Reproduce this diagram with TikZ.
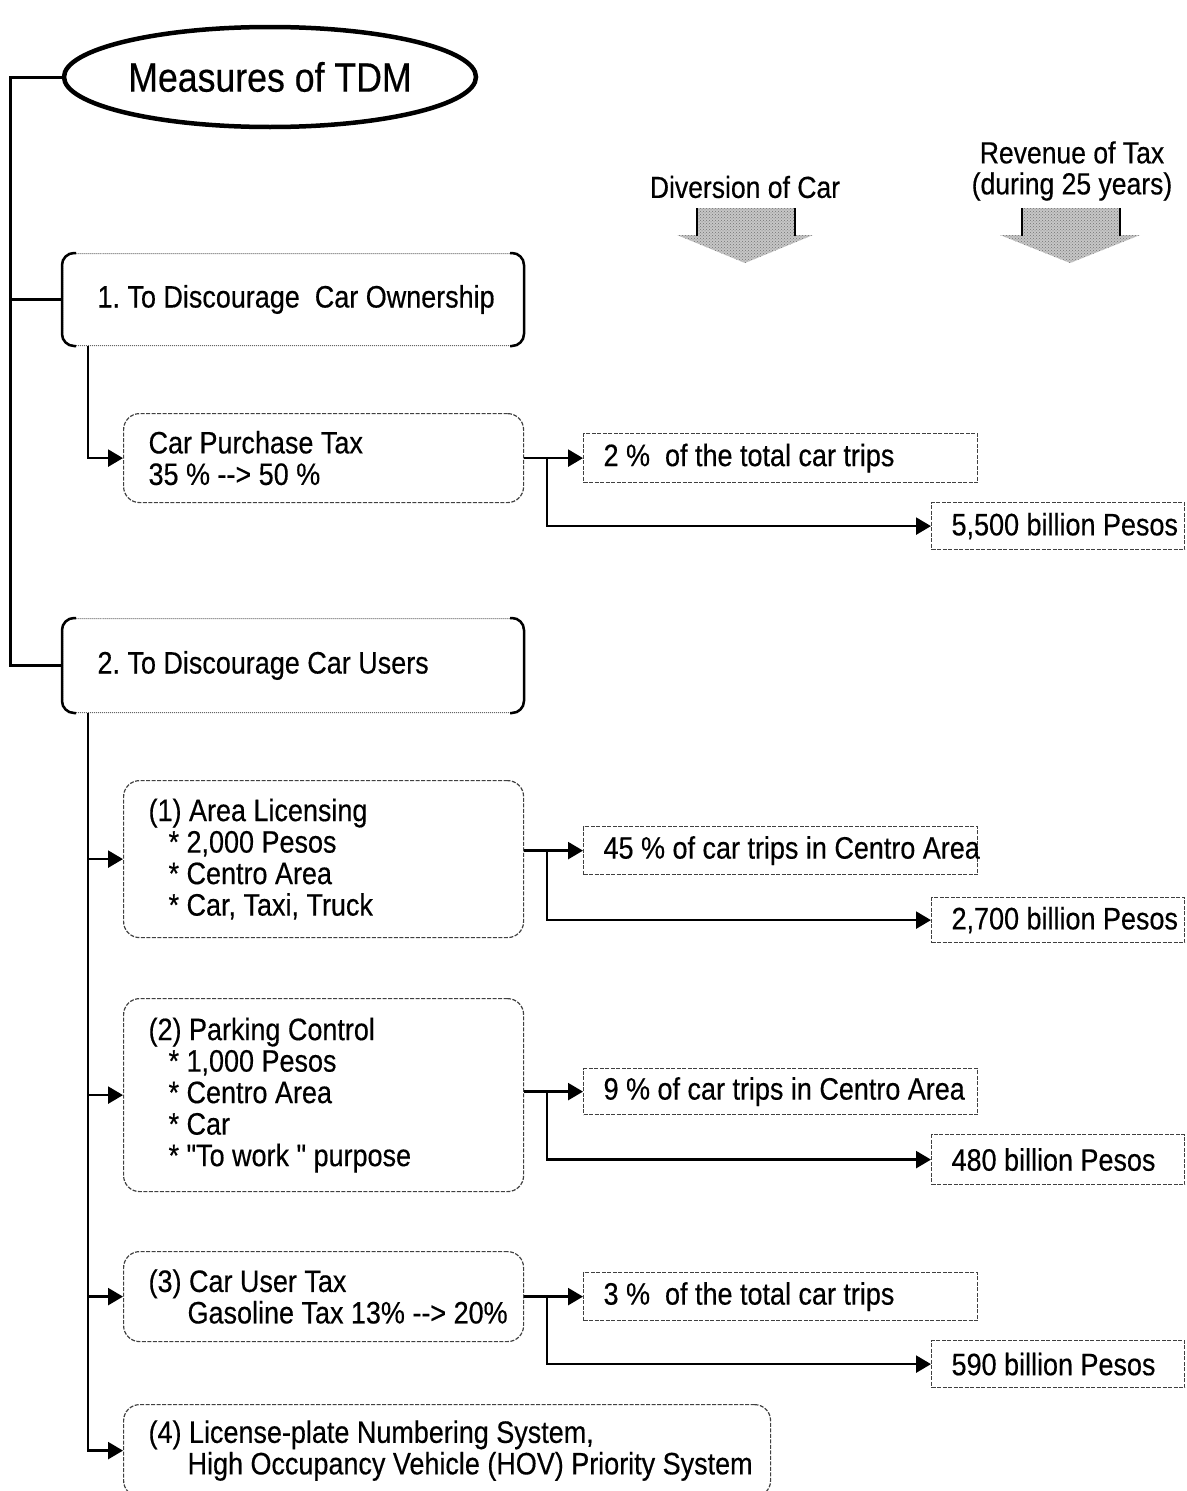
\documentclass[tikz,border=0pt]{standalone}
\usepackage{fontspec}
\setmainfont{Liberation Sans}[FakeStretch=0.87,WordSpace=1.0,FakeBold=0.4]
\usetikzlibrary{arrows.meta,shapes.geometric,patterns}
% one unbreakable text line with the font's own word spacing
\newcommand\row[1]{\mbox{\spaceskip=0pt\xspaceskip=0pt #1}}
\newcommand\starindent{\hspace*{20pt}}
\newcommand\subindent{\hspace*{39pt}}
\newcommand\straightquote{{\addfontfeature{Ligatures=TeXOff}\char34}}
\frenchspacing

\begin{document}
\begin{tikzpicture}[x=1pt,y=-1pt,
  every node/.style={font=\fontsize{31}{31.5}\selectfont},
  title/.style={ellipse, draw, line width=4.5pt, inner sep=0pt,
    minimum width=412pt, minimum height=100pt, font=\fontsize{41}{43}\selectfont},
  groupbox/.style={draw=black!60, densely dotted, line width=1pt,
    rounded corners=12pt, anchor=north west, inner xsep=35pt, inner ysep=0pt,
    text width=391pt, align=left, minimum height=92pt},
  sidebar/.style={line width=2.5pt, rounded corners=12pt},
  measure/.style={draw=black!75, dash pattern=on 4pt off 1.5pt, line width=1.2pt,
    rounded corners=16pt, anchor=north west, inner xsep=25pt, inner ysep=0pt,
    text width=350pt, align=left},
  share/.style={draw=black!75, dash pattern=on 4pt off 1.5pt, line width=1.2pt,
    anchor=north west, inner xsep=20pt, inner ysep=0pt, text width=354pt,
    align=left},
  revenue/.style={share, text width=213pt},
  trunkline/.style={line width=3pt},
  link/.style={line width=2.5pt, -{Triangle[length=15pt,width=17pt]}},
  blockfill/.style={fill=gray!45, postaction={pattern=crosshatch dots, pattern color=black!55}},
  blockside/.style={line width=2.5pt},
  header/.style={align=center, font=\fontsize{30.5}{31}\selectfont}
]
\useasboundingbox (0,0) rectangle (1186,1491);

% title and the two groups of measures
\node[title] (tdm) at (270,77) {Measures of TDM};
\node[groupbox] (g1) at (62,253) {\row{1. To Discourage\ \ Car Ownership}};
\node[groupbox, minimum height=94pt] (g2) at (62,618) {\row{2. To Discourage Car Users}};
\foreach \g in {g1,g2}{
  \draw[sidebar] ([xshift=14pt]\g.north west) -- (\g.north west)
    -- (\g.south west) -- ([xshift=14pt]\g.south west);
  \draw[sidebar] ([xshift=-14pt]\g.north east) -- (\g.north east)
    -- (\g.south east) -- ([xshift=-14pt]\g.south east);
}

% individual measures
\node[measure, minimum height=89pt] (m0) at (123,413)
  {\row{Car Purchase Tax}\\\row{35 \% -{}-> 50 \%}};
\node[measure, minimum height=157pt] (m1) at (123,780)
  {\row{(1) Area Licensing}\\\row{\starindent* 2,000 Pesos}\\\row{\starindent* Centro Area}\\\row{\starindent* Car, Taxi, Truck}};
\node[measure, minimum height=193pt] (m2) at (123,998)
  {\row{(2) Parking Control}\\\row{\starindent* 1,000 Pesos}\\\row{\starindent* Centro Area}\\\row{\starindent* Car}\\\row{\starindent* \straightquote To work \straightquote\ purpose}};
\node[measure, minimum height=90pt] (m3) at (123,1251)
  {\row{(3) Car User Tax}\\\row{\subindent Gasoline Tax 13\% -{}-> 20\%}};
\node[measure, minimum height=92pt, text width=597pt] (m4) at (123,1404)
  {\row{(4) License-plate Numbering System,}\\\row{\subindent High Occupancy Vehicle (HOV) Priority System}};

% effects: diversion of car trips and tax revenue
\node[share, minimum height=49pt] (s0) at (583,433) {\row{2 \%\ \ of the total car trips}};
\node[revenue, minimum height=47pt] (r0) at (931,502) {\row{5,500 billion Pesos}};
\node[share, minimum height=48pt] (s1) at (583,826) {\row{45 \% of car trips in Centro Area}};
\node[revenue, minimum height=45pt] (r1) at (931,897) {\row{2,700 billion Pesos}};
\node[share, minimum height=46pt] (s2) at (583,1068) {\row{9 \% of car trips in Centro Area}};
\node[revenue, minimum height=50pt] (r2) at (931,1134) {\row{480 billion Pesos}};
\node[share, minimum height=48pt] (s3) at (583,1272) {\row{3 \%\ \ of the total car trips}};
\node[revenue, minimum height=47pt] (r3) at (931,1340) {\row{590 billion Pesos}};

% column headers with shaded block arrows
\node[header] (hdiv) at (745,187) {Diversion of Car};
\node[header] (hrev) at (1072,171) {Revenue of Tax\\(during 25 years)};
\fill[blockfill] (697,208) -- (795,208) -- (795,235) -- (813,235) -- (745,263)
  -- (677,235) -- (697,235) -- cycle;
\draw[blockside] (697,208) -- (697,236) (795,208) -- (795,236);
\fill[blockfill] (1022,208) -- (1120,208) -- (1120,235) -- (1140,235) -- (1070,263)
  -- (1000,235) -- (1022,235) -- cycle;
\draw[blockside] (1022,208) -- (1022,236) (1120,208) -- (1120,236);

% tree connectors
\coordinate (spine) at (10,0);
\coordinate (trunk) at (88,0);
\coordinate (fork) at (547,0);
\draw[trunkline] (tdm.west) -| (spine |- g2.west) -- (g2.west);
\draw[trunkline] (spine |- g1.west) -- (g1.west);
\draw[link] (trunk |- g1.south) |- (m0.west);
\draw[link] (trunk |- g2.south) |- (m4.west);
\foreach \m in {m1,m2,m3}
  \draw[link] (trunk |- \m.west) -- (\m.west);

% effect connectors
\foreach \m/\s/\r in {m0/s0/r0, m1/s1/r1, m2/s2/r2, m3/s3/r3}{
  \draw[link] (\s.west -| \m.east) -- (\s.west);
  \draw[link] (fork |- \s.west) |- (\r.west);
}
\end{tikzpicture}
\end{document}
